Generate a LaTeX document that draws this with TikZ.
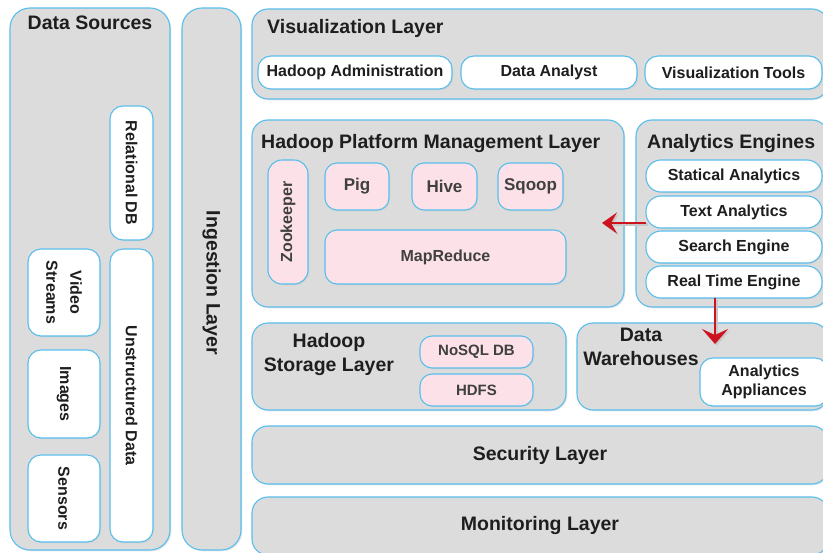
\documentclass[tikz,border=0pt]{standalone}
\usepackage{fontspec}
\setmainfont{Liberation Sans}
\usetikzlibrary{shadows,arrows.meta}
\definecolor{bord}{RGB}{88,190,236}
\definecolor{panelc}{RGB}{220,220,220}
\definecolor{pinkf}{RGB}{252,226,232}
\definecolor{txt}{RGB}{30,30,30}
\definecolor{arr}{RGB}{205,20,30}
\tikzset{
  base/.style={draw=bord, line width=1.1pt, inner sep=0pt, outer sep=0pt, align=center, text=txt,
    font=\bfseries\fontsize{16}{20}\selectfont},
  shad/.style={drop shadow={shadow xshift=1.3pt, shadow yshift=-1.3pt, fill=black!20}},
  panel/.style={base, fill=panelc, rounded corners=16pt, shad},
  wbox/.style={base, fill=white, rounded corners=13pt, shad},
  pbox/.style={base, fill=pinkf, rounded corners=12pt, text=black!75, shad},
  ttl/.style={font=\bfseries\fontsize{19.5}{24}\selectfont, text=txt, inner sep=0pt, align=center},
  flow/.style={draw=arr, line width=2.6pt, -{Stealth[length=15pt,width=#1,inset=6pt]},
    preaction={draw=black!22, line width=2.6pt, -{Stealth[length=15pt,width=#1,inset=6pt]},
      transform canvas={shift={(1.6pt,-1.6pt)}}}},
}
\newcommand\bx[7][]{\node[#1, minimum width={(#5-#3)*1pt}, minimum height={(#6-#4)*1pt}] (#2) at ({(#3+#5)/2},{(#4+#6)/2}) {#7};}
\newcommand\rbx[7][]{\node[#1, minimum width={(#6-#4)*1pt}, minimum height={(#5-#3)*1pt}] (#2) at ({(#3+#5)/2},{(#4+#6)/2}) {#7};}
\begin{document}
\begin{tikzpicture}[x=1pt,y=-1pt]
\useasboundingbox (0,0) rectangle (823,553);
% left columns
\bx[panel, rounded corners=20pt]{ds}{10}{8}{170}{550}{}
\node[ttl, anchor=north] (dst) at (90,16) {Data Sources};
\rbx[wbox, rotate=-90]{rdb}{110}{106}{153}{240}{Relational DB}
\rbx[wbox, rotate=-90, font=\bfseries\fontsize{16}{24}\selectfont]{vs}{28}{249}{100}{336}{Video\\Streams}
\rbx[wbox, rotate=-90]{img}{28}{350}{100}{438}{Images}
\rbx[wbox, rotate=-90]{sen}{28}{455}{100}{542}{Sensors}
\rbx[wbox, rotate=-90]{ud}{110}{249}{153}{542}{Unstructured Data}
\rbx[panel, rotate=-90, rounded corners=20pt]{ing}{182}{8}{241}{550}{}
\node[ttl, rotate=-90] (ingt) at (211.5,283) {Ingestion Layer};
% visualization layer
\bx[panel]{vis}{252}{9}{828}{99}{}
\node[ttl, anchor=north west] (vist) at (267,19) {Visualization Layer};
\bx[wbox]{ha}{258}{56}{452}{89}{Hadoop Administration}
\bx[wbox]{da}{461}{56}{637}{89}{Data Analyst}
\bx[wbox]{vt}{645}{56}{822}{89}{Visualization Tools}
% platform management
\bx[panel]{hpm}{252}{120}{624}{307}{}
\node[ttl, anchor=north west] (hpmt) at (261,134) {Hadoop Platform Management Layer};
\rbx[pbox, rotate=90, rounded corners=14pt]{zk}{268}{160}{308}{284}{Zookeeper}
\bx[pbox, font=\bfseries\fontsize{17}{20}\selectfont]{pig}{325}{163}{389}{210}{Pig}
\bx[pbox, font=\bfseries\fontsize{17}{20}\selectfont]{hive}{412}{163}{477}{210}{Hive}
\bx[pbox, font=\bfseries\fontsize{17}{20}\selectfont]{sq}{498}{163}{563}{210}{Sqoop}
\bx[pbox]{mr}{325}{230}{566}{284}{MapReduce}
% analytics engines
\bx[panel]{ae}{636}{120}{828}{307}{}
\node[ttl, anchor=north west] (aet) at (647,134) {Analytics Engines};
\bx[wbox, rounded corners=15pt]{sa}{646}{160}{822}{192}{Statical Analytics}
\bx[wbox, rounded corners=15pt]{ta}{646}{196}{822}{228}{Text Analytics}
\bx[wbox, rounded corners=15pt]{se}{646}{231}{822}{263}{Search Engine}
\bx[wbox, rounded corners=15pt]{rte}{646}{266}{822}{298}{Real Time Engine}
% storage
\bx[panel]{hsl}{252}{323}{566}{410}{}
\node[ttl, anchor=center] (hslt) at (329,355) {Hadoop\\Storage Layer};
\bx[pbox, font=\bfseries\fontsize{15}{18}\selectfont]{nosql}{420}{336}{533}{368}{NoSQL DB}
\bx[pbox, font=\bfseries\fontsize{15}{18}\selectfont]{hdfs}{420}{374}{533}{406}{HDFS}
% warehouses
\bx[panel]{dw}{577}{323}{828}{410}{}
\node[ttl, anchor=center] (dwt) at (641,347) {Data\\Warehouses};
\bx[wbox, font=\bfseries\fontsize{16}{19}\selectfont]{aa}{700}{358}{828}{406}{Analytics\\Appliances}
% security, monitoring
\bx[panel, font=\bfseries\fontsize{19.5}{24}\selectfont]{sec}{252}{426}{828}{484}{Security Layer}
\bx[panel, font=\bfseries\fontsize{19.5}{24}\selectfont]{mon}{252}{497}{828}{555}{Monitoring Layer}
% arrows
\coordinate (tipA) at (602,223);
\coordinate (tipB) at (715,344);
\draw[flow=21pt] (ta.west |- tipA) -- (tipA);
\draw[flow=26pt] (rte.south -| tipB) -- (tipB);
\end{tikzpicture}
\end{document}
